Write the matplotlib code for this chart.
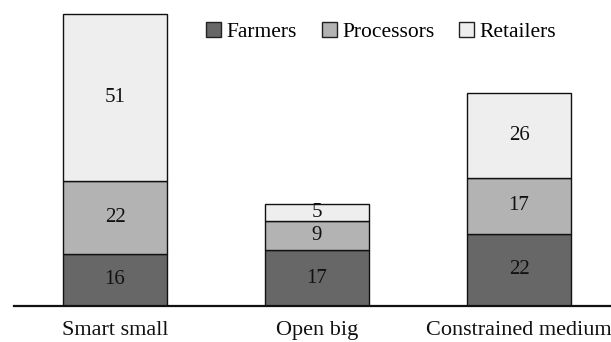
import matplotlib
matplotlib.use("Agg")
import matplotlib.pyplot as plt
from matplotlib.patches import Patch

categories = ["Smart small", "Open big", "Constrained medium"]
farmers = [16, 17, 22]
processors = [22, 9, 17]
retailers = [51, 5, 26]
series_names = ["Farmers", "Processors", "Retailers"]
colors = ["#676767", "#b3b3b3", "#eeeeee"]

plt.rcParams["font.family"] = ["Liberation Serif", "DejaVu Serif"]

W, H = 611, 342
fig = plt.figure(figsize=(W / 100, H / 100), dpi=100)
ax = fig.add_axes([14 / W, 36 / H, 1 - 14 / W, 1 - 36 / H])

x = list(range(len(categories)))
width = 0.515
bottom = [0] * len(categories)
for vals, col in zip([farmers, processors, retailers], colors):
    ax.bar(x, vals, width=width, bottom=bottom, color=col,
           edgecolor="#111111", linewidth=1.0, zorder=2)
    for xi, v, b in zip(x, vals, bottom):
        ax.text(xi, b + v / 2, str(v), ha="center", va="center",
                fontsize=15, color="#111111", zorder=3)
    bottom = [b + v for b, v in zip(bottom, vals)]

ax.set_xlim(-0.5, 2.455)
ax.set_ylim(0, 93.3)

for s in ["top", "right", "left"]:
    ax.spines[s].set_visible(False)
ax.spines["bottom"].set_linewidth(1.6)
ax.spines["bottom"].set_color("#111111")
ax.set_yticks([])
ax.set_xticks(x)
ax.set_xticklabels(categories, fontsize=16, color="#111111")
ax.tick_params(axis="x", length=0, pad=10.5)

handles = [Patch(facecolor=c, edgecolor="#222222", linewidth=1.0) for c in colors]
fig.legend(handles, series_names, ncol=3, loc="upper left",
           bbox_to_anchor=(206 / W, 1 - 22 / H), frameon=False, fontsize=15.5,
           handlelength=0.7, handleheight=0.7, handletextpad=0.25,
           columnspacing=1.15, borderaxespad=0, borderpad=0)

fig.savefig("out.png", dpi=100)
